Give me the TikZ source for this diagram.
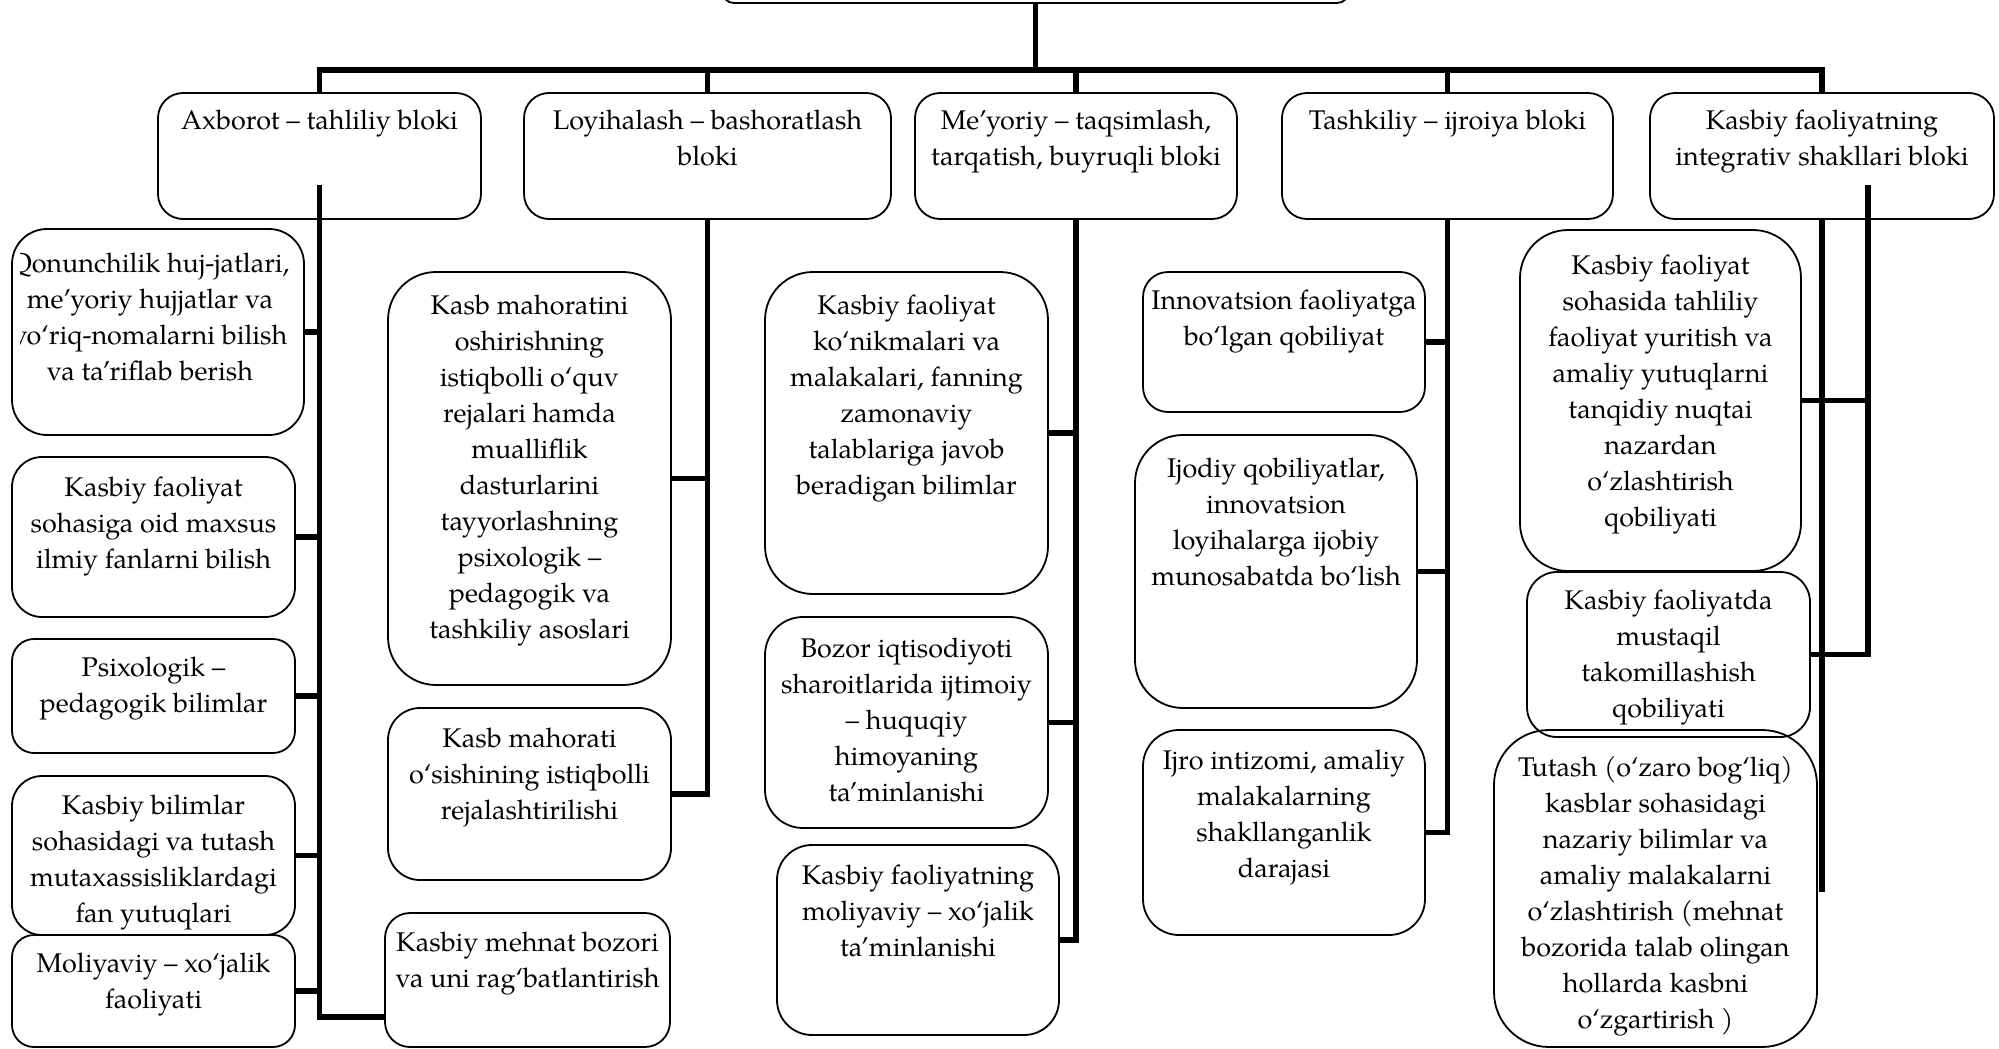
\documentclass[tikz,border=0pt]{standalone}
\usepackage{fontspec}
\setmainfont{TeX Gyre Pagella}
\usetikzlibrary{calc}

\tikzset{
  blk/.style={draw, line width=0.9pt, inner sep=0pt, outer sep=0pt},
  txt/.style={align=center, inner sep=0pt, anchor=north, font=\fontsize{13.5}{18}\selectfont},
  conn/.style={line width=2.8pt, line join=miter},
}

% rounded block given by its corners: name, x1, y1, x2, y2, corner radius
\newcommand\blockbox[6]{%
  \node[blk, rounded corners=#6, minimum width={(#4-#2)*0.5pt},
        minimum height={(#5-#3)*0.5pt}] (#1) at ({(#2+#4)/2},{(#3+#5)/2}) {};}
% text set from the top of a block: block name, x shift, top offset, lines
\newcommand\blocktext[4]{%
  \node[txt] (#1t) at ($(#1.north)+(#2,#3-16)$) {\strut #4};}

\begin{document}
\begin{tikzpicture}[x=0.5pt, y=-0.5pt]
\useasboundingbox (0,0) rectangle (1999,1049);

% head block (only its lower edge lies inside the sheet)
\blockbox{top}{722}{-60}{1349}{3}{6pt}

% five main blocks
\blockbox{axb}{158}{93}{481}{219}{12.5pt}
\blockbox{loy}{524}{93}{891}{219}{12.5pt}
\blockbox{mey}{915}{93}{1237}{219}{12.5pt}
\blockbox{tas}{1282}{93}{1613}{219}{12.5pt}
\blockbox{intg}{1650}{93}{1994}{219}{12.5pt}
\blocktext{axb}{0}{27}{Axborot – tahliliy bloki}
\blocktext{loy}{0}{27}{Loyihalash – bashoratlash\\bloki}
\blocktext{mey}{0}{27}{Me’yoriy – taqsimlash,\\tarqatish, buyruqli bloki}
\blocktext{tas}{0}{27}{Tashkiliy – ijroiya bloki}
\blocktext{intg}{0}{27}{Kasbiy faoliyatning\\integrativ shakllari bloki}

% column 1
\blockbox{a1}{12}{229}{304}{435}{17.5pt}
\blockbox{a2}{12}{457}{295}{617}{15pt}
\blockbox{a3}{12}{639}{295}{753}{11pt}
\blockbox{a4}{12}{776}{295}{935}{15pt}
\blockbox{a5}{12}{935}{295}{1047}{11pt}
\begin{scope}
  \clip (20,229) rectangle (304,435);
  \blocktext{a1}{-8}{34}{Qonunchilik huj-jatlari,\\me’yoriy hujjatlar va\\yo‘riq-nomalarni bilish\\va ta’riflab berish}
\end{scope}
\blocktext{a2}{0}{30}{Kasbiy faoliyat\\sohasiga oid maxsus\\ilmiy fanlarni bilish}
\blocktext{a3}{0}{28}{Psixologik –\\pedagogik bilimlar}
\blocktext{a4}{0}{29}{Kasbiy bilimlar\\sohasidagi va tutash\\mutaxassisliklardagi\\fan yutuqlari}
\blocktext{a5}{0}{28}{Moliyaviy – xo‘jalik\\faoliyati}

% column 2
\blockbox{b1}{388}{272}{671}{685}{24pt}
\blockbox{b2}{388}{708}{671}{880}{16pt}
\blockbox{b3}{385}{913}{670}{1047}{12.5pt}
\blocktext{b1}{0}{33}{Kasb mahoratini\\oshirishning\\istiqbolli o‘quv\\rejalari hamda\\mualliflik\\dasturlarini\\tayyorlashning\\psixologik –\\pedagogik va\\tashkiliy asoslari}
\blocktext{b2}{0}{30}{Kasb mahorati\\o‘sishining istiqbolli\\rejalashtirilishi}
\blocktext{b3}{0}{29}{Kasbiy mehnat bozori\\va uni rag‘batlantirish}

% column 3
\blockbox{c1}{765}{272}{1048}{594}{24pt}
\blockbox{c2}{765}{617}{1048}{828}{19pt}
\blockbox{c3}{777}{845}{1059}{1035}{17.5pt}
\blocktext{c1}{0}{33}{Kasbiy faoliyat\\ko‘nikmalari va\\malakalari, fanning\\zamonaviy\\talablariga javob\\beradigan bilimlar}
\blocktext{c2}{0}{31}{Bozor iqtisodiyoti\\sharoitlarida ijtimoiy\\– huquqiy\\himoyaning\\ta’minlanishi}
\blocktext{c3}{0}{30}{Kasbiy faoliyatning\\moliyaviy – xo‘jalik\\ta’minlanishi}

% column 4
\blockbox{d1}{1143}{272}{1425}{412}{12.5pt}
\blockbox{d2}{1135}{435}{1417}{708}{24pt}
\blockbox{d3}{1143}{730}{1425}{935}{18pt}
\blocktext{d1}{0}{28}{Innovatsion faoliyatga\\bo‘lgan qobiliyat}
\blocktext{d2}{0}{33}{Ijodiy qobiliyatlar,\\innovatsion\\loyihalarga ijobiy\\munosabatda bo‘lish}
\blocktext{d3}{0}{30}{Ijro intizomi, amaliy\\malakalarning\\shakllanganlik\\darajasi}

% column 5
\blockbox{e1}{1520}{230}{1801}{571}{24pt}
\blockbox{e2}{1527}{572}{1810}{737}{15pt}
\blockbox{e3}{1494}{730}{1817}{1047}{27.5pt}
\blocktext{e1}{0}{35}{Kasbiy faoliyat\\sohasida tahliliy\\faoliyat yuritish va\\amaliy yutuqlarni\\tanqidiy nuqtai\\nazardan\\o‘zlashtirish\\qobiliyati}
\blocktext{e2}{0}{28}{Kasbiy faoliyatda\\mustaqil\\takomillashish\\qobiliyati}
\blocktext{e3}{0}{37}{Tutash (o‘zaro bog‘liq)\\kasblar sohasidagi\\nazariy bilimlar va\\amaliy malakalarni\\o‘zlashtirish (mehnat\\bozorida talab olingan\\hollarda kasbni\\o‘zgartirish )}

% head trunk and bus
\coordinate (bus) at (1037,70);
\draw[conn] (top.south) -- (top.south |- bus);
\draw[conn] (axb.north) -- (axb.north |- bus) -- (intg.north |- bus) -- (intg.north);
\foreach \n in {loy,mey,tas} \draw[conn] (\n.north) -- (\n.north |- bus);

% information-analysis branch
\coordinate (axbin) at (axb.center |- 0,185);
\coordinate (axbend) at (axb.center |- 0,1017);
\draw[conn] (axbin) -- (axbend) -- (axbend -| b3.west);
\foreach \n in {a1,a2,a3,a4,a5} \draw[conn] (\n.east) -- (\n.east -| axbin);

% design-forecast branch
\draw[conn] (loy.south) -- (loy.south |- b2.east) -- (b2.east);
\draw[conn] (b1.east) -- (b1.east -| loy.south);

% normative branch
\draw[conn] (mey.south) -- (mey.south |- c3.east) -- (c3.east);
\foreach \n in {c1,c2} \draw[conn] (\n.east) -- (\n.east -| mey.south);

% organisational branch
\draw[conn] (tas.south) -- (tas.south |- d3.east) -- (d3.east);
\foreach \n in {d1,d2} \draw[conn] (\n.east) -- (\n.east -| tas.south);

% integrative branch
\coordinate (intend) at (intg.south |- 0,892);
\draw[conn] (intg.south) -- (intend);
\coordinate (intin) at (1868,185);
\draw[conn] (intin) -- (intin |- e2.east) -- (e2.east);
\draw[conn] (e1.east) -- (e1.east -| intin);
\end{tikzpicture}
\end{document}
